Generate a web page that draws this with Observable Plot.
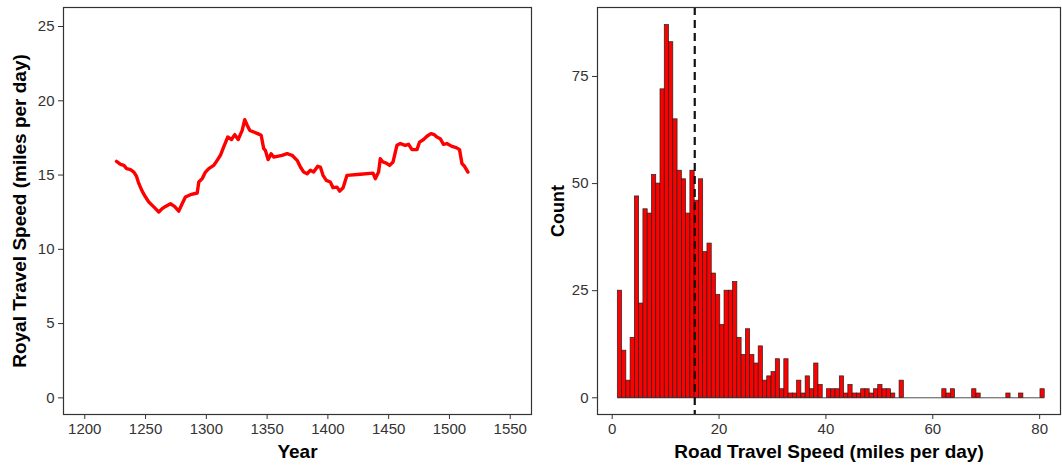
<!DOCTYPE html>
<html>
<head>
<meta charset="utf-8">
<script src="https://cdn.jsdelivr.net/npm/d3@7"></script>
<script src="https://cdn.jsdelivr.net/npm/@observablehq/plot@0.6"></script>
<style>
  html, body { margin: 0; padding: 0; background: #fff; }
  #wrap { display: flex; width: 1062px; height: 466px; }
  svg { font-family: "Liberation Sans", Arial, sans-serif; }
  g[aria-label="x-axis label"] text, g[aria-label="y-axis label"] text {
    font-weight: bold; font-size: 19px; fill: #000;
  }
  #right g[aria-label="y-axis label"] text { font-size: 18px; }
</style>
</head>
<body>
<div id="wrap"><div id="left"></div><div id="right"></div></div>
<script>
// ---- Left panel: royal travel speed over time ----
const years = [1226.1,1229.5,1232.2,1234.4,1237.6,1240.4,1242.6,1244.5,1247.2,1250,1252.7,1255.5,1258.2,1260.9,1263.7,1266.4,1270.5,1273.8,1277.3,1280.1,1282.8,1286.9,1292.5,1293.8,1296.6,1299.3,1302,1306.1,1308.9,1311.6,1314.3,1317.6,1320.7,1323.4,1326.2,1329.5,1331.6,1333.6,1335.7,1339,1342.3,1345.1,1347.2,1348.6,1350.8,1353.3,1355.4,1362.3,1366.4,1370.5,1374.7,1377.4,1380.1,1382.9,1385.6,1388.3,1391.6,1393.8,1396,1398.7,1402,1404.2,1407.5,1409.7,1412.5,1415.7,1426.7,1437.1,1439,1441.7,1443.1,1445.3,1448,1450.8,1453.6,1456.8,1459.6,1463.7,1466.4,1469.2,1473.3,1475.4,1478.7,1481.5,1484.8,1487.5,1489.7,1492.4,1495.1,1497.9,1502,1505.6,1508.3,1510.3,1512.4,1515.2];
const royalSpeed = [15.92,15.72,15.65,15.43,15.36,15.2,14.91,14.42,13.92,13.52,13.18,12.96,12.74,12.51,12.74,12.89,13.07,12.89,12.57,13.07,13.52,13.68,13.79,14.53,14.76,15.2,15.43,15.65,15.99,16.33,16.89,17.56,17.39,17.72,17.39,18.01,18.73,18.35,18.01,17.9,17.79,17.68,16.78,16.66,16.04,16.44,16.21,16.33,16.44,16.33,15.99,15.54,15.2,15.09,15.32,15.2,15.59,15.54,14.98,14.64,14.53,14.15,14.19,13.92,14.15,14.98,15.05,15.13,14.76,15.2,16.1,15.88,15.81,15.65,15.88,17.0,17.12,17.0,17.07,16.71,16.71,17.22,17.39,17.61,17.79,17.72,17.56,17.45,17.07,17.12,16.93,16.85,16.71,15.77,15.59,15.2];
const yearTicks = [1200,1250,1300,1350,1400,1450,1500,1550];
const royalTicks = [0,5,10,15,20,25];

// ---- Right panel: histogram of road travel speed ----
const binStart = 1.05;   // miles per day, left edge of first bin
const binWidth = 0.799;  // miles per day
const binCounts = [25,11,4,14,47,22,44,43,52,50,72,87,83,65,53,51,43,53,46,51,34,36,29,24,17,25,25,27,14,10,16,10,8,12,4,5,6,9,2,9,1,1,4,1,5,2,8,3,0,2,2,2,5,1,3,1,1,2,2,1,2,3,2,2,1,0,4,0,0,0,0,0,0,0,0,0,2,1,2,0,0,0,0,2,1,0,0,0,0,0,0,1,0,0,1,0,0,0,0,2];
const meanSpeed = 15.45;
const speedTicks = [0,20,40,60,80];
const countTicks = [0,25,50,75];

const royal = years.map((y, i) => ({year: y, speed: royalSpeed[i]}));
const bins = binCounts.map((c, i) => ({x1: binStart + i * binWidth, x2: binStart + (i + 1) * binWidth, count: c}));
const baseline = [{x1: binStart, x2: binStart + binCounts.length * binWidth, y: 0}];

const axisStyle = {fontFamily: "Liberation Sans, Arial, sans-serif", fontSize: "15px", color: "#333", background: "#fff", overflow: "visible"};

const left = Plot.plot({
  width: 540, height: 466,
  marginLeft: 63, marginRight: 9, marginTop: 7, marginBottom: 52,
  style: axisStyle,
  x: {domain: [1182.5, 1567.5]},
  y: {domain: [-1.12, 26.28]},
  marks: [
    Plot.line(royal, {x: "year", y: "speed", stroke: "red", strokeWidth: 3.4, strokeLinejoin: "round", strokeLinecap: "round"}),
    Plot.frame({stroke: "#333", strokeWidth: 1.2}),
    Plot.axisX({ticks: yearTicks, tickFormat: d => String(d), tickSize: 5, tickPadding: 4, label: "Year", labelAnchor: "center", labelOffset: 43, labelArrow: "none"}),
    Plot.axisY({ticks: royalTicks, tickSize: 5, tickPadding: 4, label: "Royal Travel Speed (miles per day)", labelAnchor: "center", labelOffset: 51, labelArrow: "none"})
  ]
});

const right = Plot.plot({
  width: 522, height: 466,
  marginLeft: 57, marginRight: 2, marginTop: 7, marginBottom: 52,
  style: axisStyle,
  x: {domain: [-2.75, 83.9]},
  y: {domain: [-3.9, 91.1]},
  marks: [
    Plot.rect(bins, {x1: "x1", x2: "x2", y1: 0, y2: "count", fill: "red", stroke: "#222", strokeWidth: 0.7}),
    Plot.ruleY(baseline, {x1: "x1", x2: "x2", y: "y", stroke: "#222", strokeWidth: 0.8}),
    Plot.ruleX([meanSpeed], {stroke: "#111", strokeWidth: 2.2, strokeDasharray: "8,5"}),
    Plot.frame({stroke: "#333", strokeWidth: 1.2}),
    Plot.axisX({ticks: speedTicks, tickSize: 5, tickPadding: 4, label: "Road Travel Speed (miles per day)", labelAnchor: "center", labelOffset: 43, labelArrow: "none"}),
    Plot.axisY({ticks: countTicks, tickSize: 5, tickPadding: 4, label: "Count", labelAnchor: "center", labelOffset: 46, labelArrow: "none"})
  ]
});

document.getElementById("left").appendChild(left);
document.getElementById("right").appendChild(right);
</script>
</body>
</html>
